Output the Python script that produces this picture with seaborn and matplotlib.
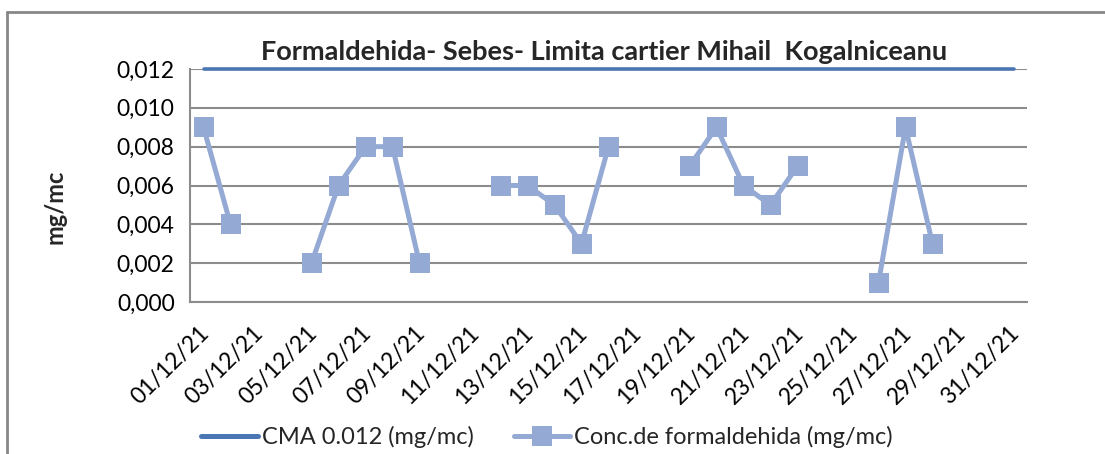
import numpy as np
import pandas as pd
import matplotlib
matplotlib.use('Agg')
import matplotlib.pyplot as plt
import matplotlib.transforms as mtransforms
from matplotlib.lines import Line2D
import seaborn as sns

days = list(range(1, 32))
conc = [0.009, 0.004, None, None, 0.002, 0.006, 0.008, 0.008, 0.002, None,
        None, 0.006, 0.006, 0.005, 0.003, 0.008, None, None, 0.007, 0.009,
        0.006, 0.005, 0.007, None, None, 0.001, 0.009, 0.003, None, None, None]
cma = [0.012] * 31
title = 'Formaldehida- Sebes- Limita cartier Mihail  Kogalniceanu'
cma_label = 'CMA 0.012 (mg/mc)'
conc_label = 'Conc.de formaldehida (mg/mc)'

cma_color = '#4A76B3'
conc_color = '#94A9D3'
grid_color = '#8C8C8C'

sns.set_style('white')
plt.rcParams['font.family'] = ['Lato', 'DejaVu Sans']

df = pd.DataFrame({'day': days, 'conc': conc, 'cma': cma})
# excel puts date points in the middle of the day slot
df['date'] = pd.to_datetime('2021-12-' + df['day'].astype(str).str.zfill(2)) + pd.Timedelta(hours=12)
df['seg'] = df['conc'].isna().cumsum()
pts = df.dropna(subset=['conc'])

fig = plt.figure(figsize=(11.05, 4.54), dpi=100)
ax = fig.add_axes([190/1105, 1-302/454, (1027-190)/1105, (302-69)/454])

ax.yaxis.grid(True, color=grid_color, lw=1.5)
ax.set_axisbelow(True)

sns.lineplot(data=df, x='date', y='cma', color=cma_color, lw=2.6, ax=ax, legend=False)
sns.lineplot(data=pts, x='date', y='conc', units='seg', estimator=None, color=conc_color,
             lw=3.6, marker='s', markersize=14, markeredgewidth=0, ax=ax, legend=False)
for ln in ax.lines:
    ln.set_clip_on(False)

ax.set_xlim(pd.Timestamp('2021-12-01'), pd.Timestamp('2022-01-01'))
ax.set_ylim(0, 0.012)
ax.set_yticks(np.arange(0, 0.0121, 0.002))
ax.yaxis.set_major_formatter(plt.FuncFormatter(lambda v, p: f'{v:.3f}'.replace('.', ',')))
ticks = pd.date_range('2021-12-01', '2021-12-31', freq='2D')
ax.set_xticks(ticks)
ax.set_xticklabels([t.strftime('%d/%m/%y') for t in ticks])

for s in ['top', 'right']:
    ax.spines[s].set_visible(False)
for s in ['left', 'bottom']:
    ax.spines[s].set_color(grid_color)
    ax.spines[s].set_linewidth(1.5)

ax.tick_params(axis='both', direction='out', length=7, width=1.5, color=grid_color,
               labelsize=16.5, labelcolor='black')
ax.tick_params(axis='x', pad=4)
ax.tick_params(axis='y', pad=4)
offset = mtransforms.ScaledTranslation(16/100, -13/100, fig.dpi_scale_trans)
for lab in ax.get_xticklabels():
    lab.set_rotation(45)
    lab.set_ha('right')
    lab.set_va('center')
    lab.set_rotation_mode('anchor')
    lab.set_transform(lab.get_transform() + offset)

ax.set_xlabel('')
ax.set_ylabel('mg/mc', fontsize=17, fontweight='bold')
ax.yaxis.set_label_coords(-0.147, 0.41)

fig.text(604/1105, 1-52/454, title, ha='center', va='center', fontsize=19.5, fontweight='bold')

handles = [Line2D([], [], color=cma_color, lw=3.6),
           Line2D([], [], color=conc_color, lw=3.6, marker='s', markersize=14, markeredgewidth=0)]
fig.legend(handles, [cma_label, conc_label], loc='center', bbox_to_anchor=(547/1105, 1-437/454),
           ncol=2, frameon=False, fontsize=17, handlelength=2.4, columnspacing=1.7,
           handletextpad=0.15)

# outer chart frame (only left and top visible in the crop)
fig.add_artist(Line2D([7/1105, 7/1105], [0, 1-12/454], color='#878787', lw=2, transform=fig.transFigure))
fig.add_artist(Line2D([7/1105, 1], [1-12/454, 1-12/454], color='#878787', lw=2, transform=fig.transFigure))

fig.savefig('out.png', dpi=100)
